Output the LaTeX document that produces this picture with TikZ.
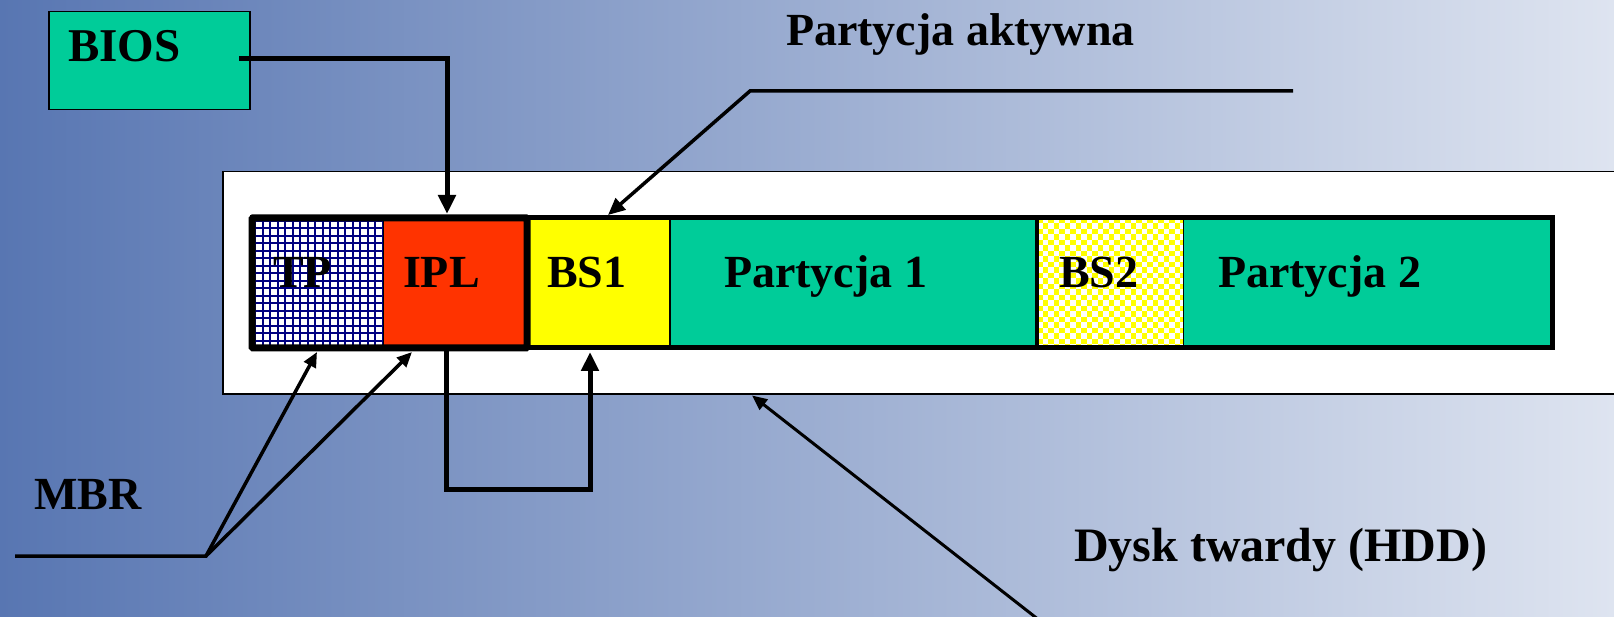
\documentclass[tikz,border=0pt]{standalone}
\usepackage{fontspec}
\setmainfont{Liberation Serif}
\usetikzlibrary{arrows.meta,calc}

\definecolor{bgL}{RGB}{88,118,178}
\definecolor{bgM}{RGB}{143,163,204}
\definecolor{bgR}{RGB}{222,228,240}
\definecolor{sea}{RGB}{0,204,153}
\definecolor{boot}{RGB}{255,51,0}
\definecolor{bsyellow}{RGB}{255,255,0}
\definecolor{gridnavy}{RGB}{0,0,128}

\tikzset{
  cell/.style={anchor=north west, inner sep=0pt, outer sep=0pt,
               minimum height=130pt},
  lbl/.style={anchor=base west, inner sep=0pt, outer sep=0pt,
              font=\fontsize{46}{50}\selectfont\bfseries},
  bigtip/.style={-{Triangle[length=19pt,width=17pt]}},
  midtip/.style={-{Triangle[length=17pt,width=15pt]}},
  smalltip/.style={-{Triangle[length=15pt,width=13pt]}},
}

\begin{document}
\begin{tikzpicture}[x=1pt,y=-1pt]
\useasboundingbox (0,0) rectangle (1614,617);

% slide background
\shade[left color=bgL, middle color=bgM, right color=bgR] (0,0) rectangle (1614,617);

% hard disk frame (runs off the right edge)
\begin{scope}
  \clip (0,0) rectangle (1614,617);
  \node[draw, fill=white, line width=1.5pt, anchor=north west, inner sep=0pt,
        minimum width=1420pt, minimum height=222pt] (hdd) at (222,171) {};
\end{scope}

% BIOS box
\node[draw, fill=sea, line width=1.5pt, anchor=north west, inner sep=0pt,
      minimum width=201pt, minimum height=98pt] (bios) at (48,11) {};
\node[lbl, font=\fontsize{47}{50}\selectfont\bfseries] (tBIOS) at (68,62) {BIOS};

% disk cells
\node[cell, fill=white, minimum width=131pt] (tp)  at (252,218) {};
\node[cell, fill=boot, minimum width=144pt] (ipl) at (383,218) {};
\node[cell, fill=bsyellow, minimum width=143pt] (bs1) at (527,218) {};
\node[cell, fill=sea, minimum width=367pt] (p1)  at (670,218) {};
\node[cell, fill=white, minimum width=146pt] (bs2) at (1037,218) {};
\node[cell, fill=sea, minimum width=369pt] (p2)  at (1183,218) {};

% grid pattern of the partition table
\begin{scope}
  \clip (tp.north west) rectangle (tp.south east);
  \foreach \k in {3,10.5,...,140} {
    \draw[gridnavy, line width=2pt] ($(tp.north west)+(\k,0)$) -- ++(0,130);
    \draw[gridnavy, line width=2pt] ($(tp.north west)+(0,\k)$) -- ++(131,0);
  }
\end{scope}

% checkerboard pattern of the second boot sector
\begin{scope}
  \clip (bs2.north west) rectangle (bs2.south east);
  \foreach \i in {0,...,26} {
    \foreach \j in {0,...,24} {
      \pgfmathtruncatemacro\chk{mod(\i+\j,2)}
      \ifnum\chk=0
        \fill[bsyellow] ($(bs2.north west)+(\i*5.5,\j*5.5)$) rectangle ++(5.5,5.5);
      \fi
    }
  }
\end{scope}

% outlines
\draw[line width=5pt] (tp.north west) rectangle (p2.south east);
\draw[line width=1pt] (tp.north east) -- (tp.south east);
\draw[line width=1.5pt] (bs1.north east) -- (bs1.south east);
\draw[line width=4pt] (p1.north east) -- (p1.south east);
\draw[line width=1pt] (bs2.north east) -- (bs2.south east);
\draw[line width=7pt, rounded corners=1pt] (tp.north west) rectangle (ipl.south east);

% cell labels
\node[lbl] (tTP)  at (273,288)  {TP};
\node[lbl] (tIPL) at (403,288)  {IPL};
\node[lbl] (tBS1) at (547,288)  {BS1};
\node[lbl] (tP1)  at (724,288)  {Partycja 1};
\node[lbl] (tBS2) at (1059,288) {BS2};
\node[lbl] (tP2)  at (1218,288) {Partycja 2};

% captions
\node[lbl] (tPA)  at (786,46)  {Partycja aktywna};
\node[lbl] (tMBR) at (34,509)  {MBR};
\node[lbl, font=\fontsize{48}{52}\selectfont\bfseries] (tHDD) at (1074,561) {Dysk twardy (HDD)};

% BIOS loads the IPL
\coordinate (biosOut) at ($(bios.north west)+(191,48)$);
\draw[line width=5pt, bigtip] (biosOut) -| ($(ipl.north west)+(64,-4)$);

% IPL passes control to BS1
\coordinate (loopL) at (446,489);
\coordinate (loopR) at (590,489);
\draw[line width=5pt, bigtip] ($(ipl.south west)+(63,0)$) -- (loopL) -- (loopR)
      -- ($(bs1.south west)+(63,4)$);

% active partition pointer
\coordinate (paR) at (1293,91);
\coordinate (paL) at (750,91);
\draw[line width=3.5pt, midtip] (paR) -- (paL) -- ($(bs1.north west)+(81,-3)$);

% MBR pointers
\coordinate (mbrL) at (15,556);
\coordinate (mbrJ) at (206,556);
\draw[line width=3.5pt, smalltip] (mbrL) -- (mbrJ) -- ($(tp.south west)+(65,4)$);
\draw[line width=3.5pt, smalltip] (mbrJ) -- ($(ipl.south west)+(29,4)$);

% hard disk pointer
\coordinate (hddEnd) at (1039,620);
\draw[line width=3pt, smalltip] (hddEnd) -- ($(hdd.south west)+(530,1)$);

\end{tikzpicture}
\end{document}
